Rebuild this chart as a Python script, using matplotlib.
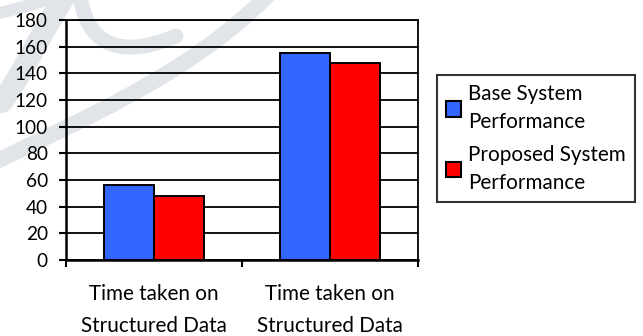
import matplotlib.pyplot as plt
import numpy as np
from matplotlib.path import Path
from matplotlib.patches import PathPatch

categories = ["Time taken on\nStructured Data", "Time taken on\nStructured Data"]
series_names = ["Base System\nPerformance", "Proposed System\nPerformance"]
base_values = [56, 155]
proposed_values = [48, 148]
y_ticks = [0, 20, 40, 60, 80, 100, 120, 140, 160, 180]

COLORS = ["#3366FF", "#FF0000"]
WATERMARK_COLOR = "#e1e5ea"

# faint logo strokes behind the chart, in pixel space of the page (y down)
WATERMARK_STROKES = [
    ([(-5, 162), (70, 125), (190, 75), (268, -5)], 16),
    ([(2, 102), (28, 65), (42, 30), (66, -5)], 22),
    ([(80, -5), (86, 40), (115, 62), (176, 36)], 15),
    ([(-5, 14), (20, 8), (40, 3), (58, -5)], 12),
]

plt.rcParams["font.family"] = ["Lato", "DejaVu Sans"]

fig = plt.figure(figsize=(6.43, 3.36), dpi=100)

bg = fig.add_axes([0, 0, 1, 1], zorder=0)
bg.set_xlim(0, 643)
bg.set_ylim(336, 0)
bg.axis("off")
for pts, lw in WATERMARK_STROKES:
    path = Path(pts, [Path.MOVETO, Path.CURVE4, Path.CURVE4, Path.CURVE4])
    bg.add_patch(PathPatch(path, facecolor="none", edgecolor=WATERMARK_COLOR,
                           linewidth=lw * 0.72, capstyle="round"))

ax = fig.add_axes([0.1026, 0.226, 0.5474, 0.7145], zorder=1)
ax.set_facecolor("none")

x = np.arange(len(categories)) + 0.5
width = 0.284
ax.bar(x - width / 2, base_values, width, color=COLORS[0], edgecolor="black",
       linewidth=1.4, label=series_names[0], zorder=3)
ax.bar(x + width / 2, proposed_values, width, color=COLORS[1], edgecolor="black",
       linewidth=1.4, label=series_names[1], zorder=3)

ax.set_xlim(0, len(categories))
ax.set_ylim(0, 180)
ax.set_yticks(y_ticks)
ax.yaxis.grid(True, color="black", linewidth=1.3, zorder=0)
ax.set_axisbelow(True)

# category boundaries get tick marks, labels sit centred on minor ticks
ax.set_xticks(np.arange(len(categories) + 1))
ax.set_xticklabels([])
ax.set_xticks(x, minor=True)
ax.set_xticklabels(categories, minor=True, fontsize=14.9, linespacing=1.8)
ax.tick_params(axis="x", which="major", length=5, width=1.5, direction="out")
ax.tick_params(axis="x", which="minor", length=0, pad=17)
ax.tick_params(axis="y", length=5, width=1.5, labelsize=13.7, pad=8)

for side in ["left", "bottom"]:
    ax.spines[side].set_linewidth(1.8)
for side in ["top", "right"]:
    ax.spines[side].set_linewidth(1.3)

leg = fig.legend(loc="upper left", bbox_to_anchor=(0.679, 0.777), fontsize=14.9,
                 frameon=True, fancybox=False, edgecolor="black",
                 handlelength=0.75, handleheight=0.75, handletextpad=0.3,
                 labelspacing=0.6, borderpad=0.45, borderaxespad=0)
leg.get_frame().set_linewidth(1.5)
for t in leg.get_texts():
    t.set_linespacing(1.5)
for h in leg.legend_handles:
    h.set_linewidth(1.5)

fig.savefig("out.png", dpi=100)
